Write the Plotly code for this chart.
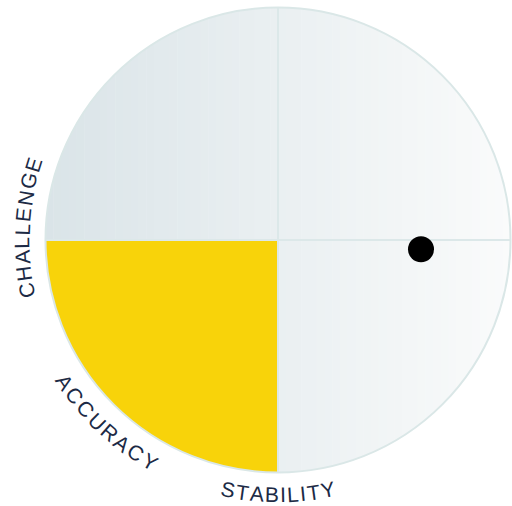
import math
import plotly.graph_objects as go

# ---- data ----
labels = ["CHALLENGE", "ACCURACY", "STABILITY"]
label_angles = [177.2, 226.8, 270.0]      # degrees, position of label centre on ring
label_outward = [True, False, False]      # letter tops point away from centre
label_radius_px = [256.0, 256.0, 254.5]
label_spacing_px = [1.9, 1.9, 1.1]
highlight_quadrant = "bottom-left"
dot_x = [0.615]
dot_y = [-0.04]

# ---- geometry (px -> data units) ----
W, H = 512, 506
CX, CY, RPX = 278.0, 240.0, 232.5
def px2x(px): return (px - CX) / RPX
def px2y(py): return (CY - py) / RPX
xr = [px2x(0), px2x(W)]
yr = [px2y(H), px2y(0)]

fig = go.Figure()
shapes = []

# gradient disk made of thin vertical strips
c_left = (218, 228, 232)
c_right = (250, 251, 251)
N = 60
for i in range(N):
    x0 = -1 + 2 * i / N
    x1 = -1 + 2 * (i + 1) / N + 0.002
    x1 = min(x1, 1)
    t = (i + 0.5) / N
    col = tuple(round(c_left[k] + (c_right[k] - c_left[k]) * t) for k in range(3))
    pts_top, pts_bot = [], []
    M = 8
    for j in range(M + 1):
        x = x0 + (x1 - x0) * j / M
        yv = math.sqrt(max(0.0, 1 - x * x))
        pts_top.append((x, yv))
        pts_bot.append((x, -yv))
    pts = pts_top + pts_bot[::-1]
    path = "M " + " L ".join(f"{p[0]:.5f},{p[1]:.5f}" for p in pts) + " Z"
    shapes.append(dict(type="path", path=path, fillcolor=f"rgb{col}",
                       line=dict(width=0), layer="below"))

# highlighted quadrant (bottom-left)
pts = [(0, 0), (0, -1)]
for j in range(0, 91):
    a = math.radians(270 - j)
    pts.append((math.cos(a), math.sin(a)))
path = "M " + " L ".join(f"{p[0]:.5f},{p[1]:.5f}" for p in pts) + " Z"
shapes.append(dict(type="path", path=path, fillcolor="#F8D30A",
                   line=dict(width=0), layer="below"))

# dividers
shapes.append(dict(type="line", x0=-1, x1=1, y0=0, y1=0,
                   line=dict(color="#DCE8E9", width=2), layer="below"))
shapes.append(dict(type="line", x0=0, x1=0, y0=-1, y1=1,
                   line=dict(color="#DCE8E9", width=2), layer="below"))
# outer border
shapes.append(dict(type="circle", x0=-1, x1=1, y0=-1, y1=1,
                   line=dict(color="#DAE7E7", width=2), layer="below"))

# ---- curved labels ----
widths = {"A": 667, "B": 667, "C": 722, "E": 667, "G": 778, "H": 722, "I": 278,
          "L": 556, "N": 722, "R": 722, "S": 667, "T": 611, "U": 722, "Y": 667}
FS = 21
annotations = []
for text, ang, outward, RL, SP in zip(labels, label_angles, label_outward,
                                       label_radius_px, label_spacing_px):
    adv = [widths[c] / 1000 * FS for c in text]
    total = sum(adv) + SP * (len(text) - 1)
    s = -total / 2
    for c, a in zip(text, adv):
        sc = s + a / 2
        s += a + SP
        dth = math.degrees(sc / RL)
        th = ang - dth if outward else ang + dth
        thr = math.radians(th)
        x = math.cos(thr) * RL / RPX
        y = math.sin(thr) * RL / RPX
        if outward:
            rot = -(th - 90)
        else:
            rot = -(th + 90)
        rot = (rot + 180) % 360 - 180
        annotations.append(dict(x=x, y=y, xref="x", yref="y", text=c,
                                showarrow=False, textangle=rot,
                                xanchor="center", yanchor="middle",
                                font=dict(family="Liberation Sans, Arial", size=FS,
                                          color="#1C2A45")))

fig.add_trace(go.Scatter(x=dot_x, y=dot_y, mode="markers",
                         marker=dict(size=26, color="black"),
                         hoverinfo="skip", showlegend=False))

fig.update_layout(width=W, height=H, margin=dict(l=0, r=0, t=0, b=0),
                  paper_bgcolor="white", plot_bgcolor="white",
                  shapes=shapes, annotations=annotations, showlegend=False,
                  xaxis=dict(range=xr, visible=False, fixedrange=True),
                  yaxis=dict(range=yr, visible=False, fixedrange=True))
fig.write_html("out.html", config={"displayModeBar": False},
               post_script="document.body.style.margin='0';document.body.style.overflow='hidden';")
